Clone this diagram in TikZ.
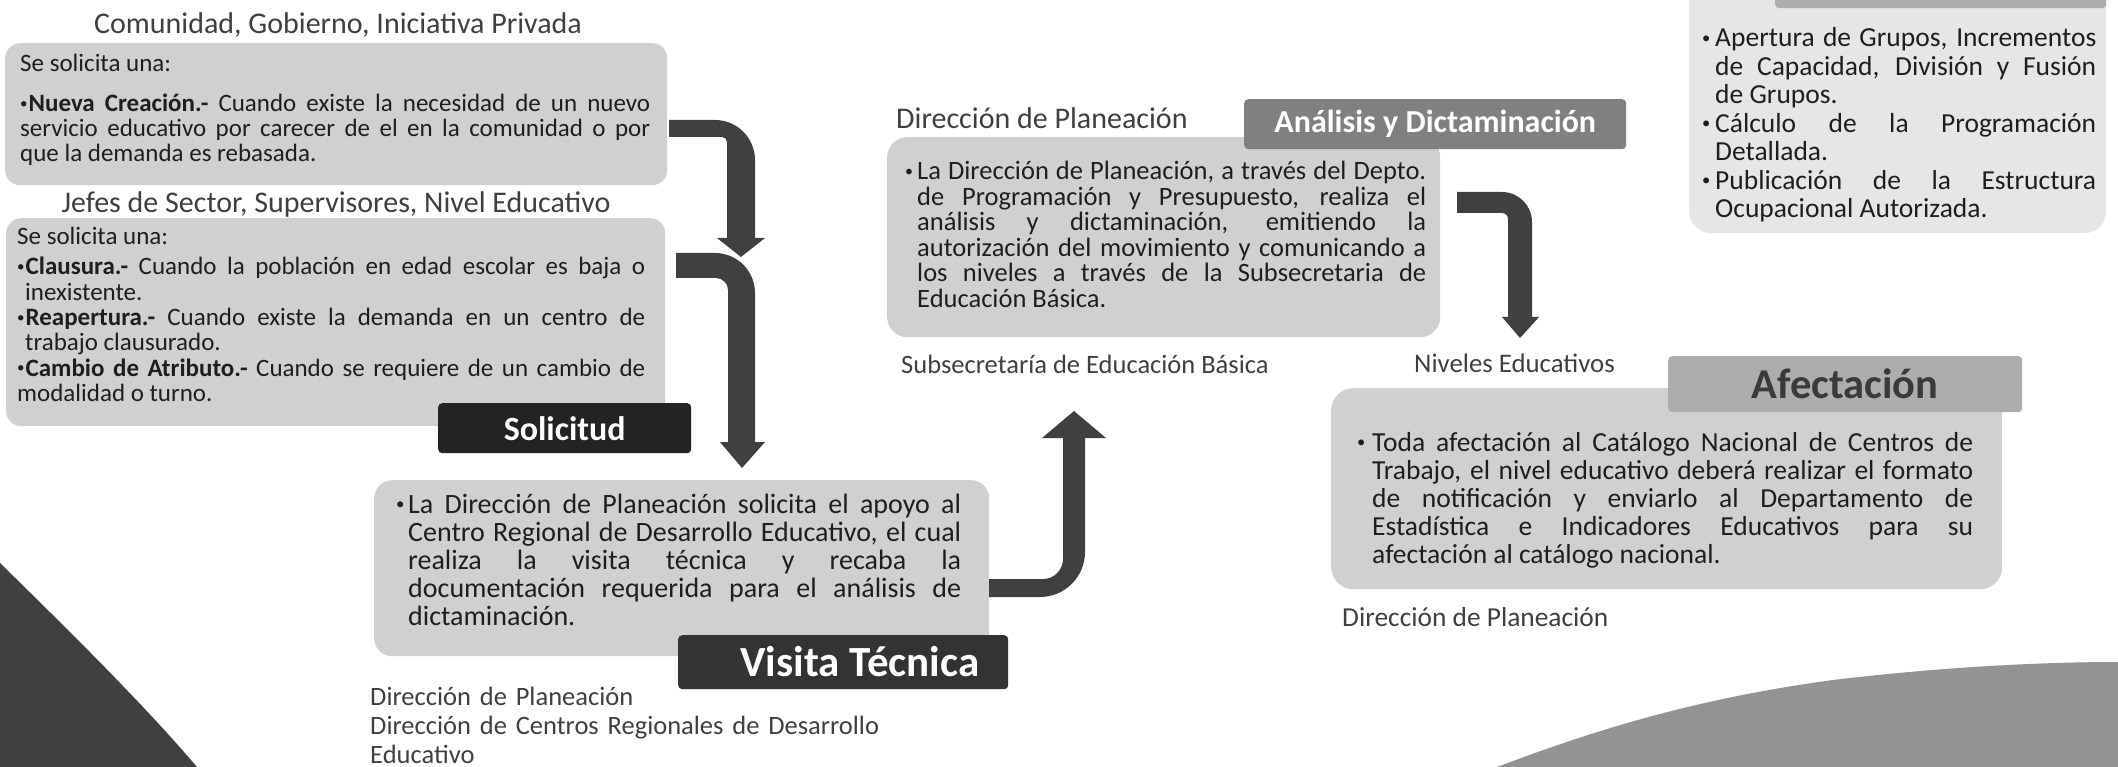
\documentclass[tikz,border=0pt]{standalone}
\usepackage{fontspec}
\setmainfont{Carlito}
\definecolor{boxg}{HTML}{D0D0D0}
\definecolor{boxl}{HTML}{E6E6E6}
\definecolor{arrowc}{HTML}{404040}
\definecolor{labc}{HTML}{3F3F3F}
\definecolor{txtc}{HTML}{1E1E1E}
\definecolor{solc}{HTML}{232323}
\definecolor{visc}{HTML}{333333}
\definecolor{anac}{HTML}{808080}
\definecolor{afec}{HTML}{ADADAD}
\definecolor{afet}{HTML}{3A3A3A}
\definecolor{decod}{HTML}{404040}
\definecolor{decol}{HTML}{939393}
\newcommand{\fs}[2]{\fontsize{#1pt}{#2pt}\selectfont}
\newcommand{\bul}{\raisebox{0.13em}{\scalebox{0.6}{•}}}
\newcommand{\bp}[2]{\hangindent=#1pt\hangafter=1\makebox[#1pt][l]{\bul}#2\par}
\begin{document}
\begin{tikzpicture}[x=1pt,y=-1pt,
  box/.style={fill=boxg, rounded corners=#1, inner sep=0pt, anchor=north west, draw=none},
  tag/.style={inner sep=0pt, anchor=north west, rounded corners=4pt},
  txt/.style={inner sep=0pt, anchor=base west, align=justify, text=txtc},
  lab/.style={inner sep=0pt, anchor=base west, text=labc},
  arr/.style={fill=arrowc},
]
\useasboundingbox (0,0) rectangle (2118,767);
\clip (0,0) rectangle (2118,767);
% decorative shapes
\fill[decod] (0,563) .. controls (60,622) and (140,700) .. (197,767) -- (0,767) -- cycle;
\fill[decol] (1497,767) .. controls (1600,728) and (1700,698) .. (1833,680) .. controls (1950,666) and (2050,662) .. (2118,662) -- (2118,767) -- cycle;
% boxes
\node[box=15pt, minimum width=662pt, minimum height=142pt] (b1) at (5,43) {};
\node[box=15pt, minimum width=659pt, minimum height=208pt] (b2) at (6,218) {};
\node[box=18pt, minimum width=615pt, minimum height=176pt] (vb) at (374,480) {};
\node[box=20pt, minimum width=553pt, minimum height=200pt] (mb) at (887,137) {};
\node[box=22pt, minimum width=671pt, minimum height=201pt] (ab) at (1331,388) {};
\node[box=22pt, fill=boxl, minimum width=417pt, minimum height=263pt] (tr) at (1689,-30) {};
% tags
\node[tag, fill=solc, minimum width=253pt, minimum height=50pt, text=white, font=\bfseries\fs{34}{34}] (sol) at (438,403) {Solicitud};
\node[tag, fill=visc, minimum width=330pt, minimum height=54pt] (vt) at (678,635) {};
\node[inner sep=0pt, text=white, font=\bfseries\fs{43}{43}] (vtt) at (860,662) {Visita Técnica};
\node[tag, fill=anac, minimum width=382pt, minimum height=50pt, text=white, font=\bfseries\fs{32}{32}] (an) at (1244,99) {Análisis y Dictaminación};
\node[tag, fill=afec, minimum width=354pt, minimum height=56pt, text=afet, font=\bfseries\fs{42.5}{42.5}] (al) at (1668,356) {Afectación};
\node[tag, fill=afec, minimum width=331pt, minimum height=48pt] (th) at (1775,-40) {};
% arrows
\fill[arr] (669,120) -- (715,120) arc[start angle=-90,end angle=0,radius=40] -- (755,238) -- (765,238) -- (741,257) -- (717,238) -- (727,238) -- (727,142) arc[start angle=0,end angle=-90,radius=5] -- (669,137) -- cycle;
\fill[arr] (676,253) -- (715,253) arc[start angle=-90,end angle=0,radius=40] -- (755,442) -- (765,442) -- (742,468) -- (720,442) -- (728,442) -- (728,290) arc[start angle=0,end angle=-90,radius=12] -- (676,278) -- cycle;
\fill[arr] (989,579) -- (1043,579) arc[start angle=90,end angle=0,radius=20] -- (1063,438) -- (1042,438) -- (1074,411) -- (1106,438) -- (1085,438) -- (1085,552) arc[start angle=0,end angle=90,radius=45] -- (989,597) -- cycle;
\fill[arr] (1457,192) -- (1502,192) arc[start angle=-90,end angle=0,radius=30] -- (1532,317) -- (1539,317) -- (1520,338) -- (1502,317) -- (1508,317) -- (1508,219) arc[start angle=0,end angle=-90,radius=6] -- (1457,213) -- cycle;
% titles
\node[lab, anchor=base, font=\fs{30}{30}] (t1) at (338,33.5) {Comunidad, Gobierno, Iniciativa Privada};
\node[lab, anchor=base, font=\fs{30}{30}] (t2) at (336,213) {Jefes de Sector, Supervisores, Nivel Educativo};
% box 1 text
\node[lab, text=txtc, font=\fs{25}{25}] (s1) at (20,72) {Se solicita una:};
\node[txt, text width=630pt, font=\fs{25}{25}] (p1) at (20,112) {\hangindent=8pt\hangafter=1 \bul\kern1pt\textbf{Nueva Creación.-} Cuando existe la necesidad de un nuevo\linebreak servicio educativo por carecer de el en la comunidad o por\linebreak que la demanda es rebasada.};
% box 2 text
\node[lab, text=txtc, font=\fs{25}{25}] (s2) at (17,245) {Se solicita una:};
\node[txt, text width=628pt, font=\fs{25}{25.3}] (p2) at (17,275) {\hangindent=8pt\hangafter=1 \bul\kern1pt\textbf{Clausura.-} Cuando la población en edad escolar es baja o\linebreak inexistente.\par
\hangindent=8pt\hangafter=1 \bul\kern1pt\textbf{Reapertura.-} Cuando existe la demanda en un centro de\linebreak trabajo clausurado.\par
\hangindent=8pt\hangafter=1 \bul\kern1pt\textbf{Cambio de Atributo.-} Cuando se requiere de un cambio de\linebreak modalidad o turno.};
% visita text
\node[txt, text width=565pt, font=\fs{28}{28}] (p3) at (396,513) {\bp{12}{La Dirección de Planeación solicita el apoyo al\linebreak Centro Regional de Desarrollo Educativo, el cual\linebreak realiza la visita técnica y recaba la\linebreak documentación requerida para el análisis de\linebreak dictaminación.}};
% middle text
\node[txt, text width=521pt, font=\fs{26.5}{25.5}] (p4) at (905,180) {\bp{12}{La Dirección de Planeación, a través del Depto.\linebreak de Programación y Presupuesto, realiza el\linebreak análisis y dictaminación, emitiendo la\linebreak autorización del movimiento y comunicando a\linebreak los niveles a través de la Subsecretaria de\linebreak Educación Básica.}};
% afectacion text
\node[txt, text width=616pt, font=\fs{27.5}{28}] (p5) at (1357,451) {\bp{15}{Toda afectación al Catálogo Nacional de Centros de\linebreak Trabajo, el nivel educativo deberá realizar el formato\linebreak de notificación y enviarlo al Departamento de\linebreak Estadística e Indicadores Educativos para su\linebreak afectación al catálogo nacional.}};
% top right text
\node[txt, text width=394pt, font=\fs{27.5}{28.5}] (p6) at (1702,47) {\bp{13}{Apertura de Grupos, Incrementos\linebreak de Capacidad, División y Fusión\linebreak de Grupos.}\bp{13}{Cálculo de la Programación\linebreak Detallada.}\bp{13}{Publicación de la Estructura\linebreak Ocupacional Autorizada.}};
% labels
\node[lab, font=\fs{30}{30}] (dp1) at (896,129) {Dirección de Planeación};
\node[lab, font=\fs{26.5}{26.5}] (sub) at (901,373.5) {Subsecretaría de Educación Básica};
\node[lab, font=\fs{26.8}{26.8}] (niv) at (1414,372.6) {Niveles Educativos};
\node[lab, font=\fs{27.4}{27.4}] (dp2) at (1342,626) {Dirección de Planeación};
\node[lab, text width=700pt, align=left, font=\fs{26.5}{29.3}] (dl) at (370,705) {Dirección de Planeación\\Dirección de Centros Regionales de Desarrollo\\Educativo};
\end{tikzpicture}
\end{document}
